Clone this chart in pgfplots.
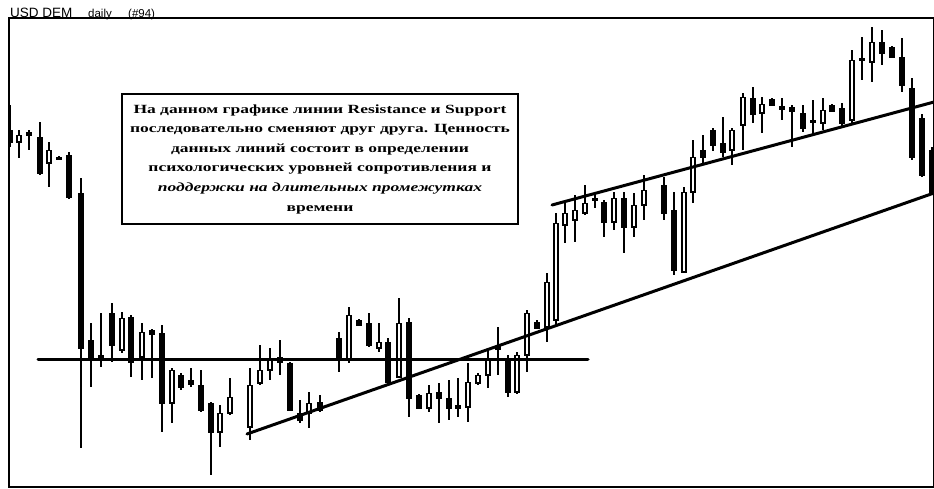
\documentclass[border=0pt]{standalone}
\usepackage{pgfplots}
\pgfplotsset{compat=1.18}
\usepackage{pgfplotstable}
\usepackage{fontspec}
\setmainfont{Liberation Serif}
\newfontfamily\titlefont{Liberation Sans}
\newfontfamily\boxfont[FakeStretch=1.4]{Liberation Serif}

% candles in pixel units: x, body top, body bottom, high, low (y grows downward)
\pgfplotstableread{
x top bot hi lo
10 130 142 105 147
29 132 135 130 150
40 137 173 122 175
59 157 159 156 160
69 155 197 152 199
81 193 348 178 448
91 340 358 323 387
101 355 360 313 367
112 313 345 303 362
131 317 362 315 377
152 330 334 329 378
162 333 403 325 432
181 375 387 373 390
191 380 384 368 387
201 385 410 370 412
211 403 432 402 475
280 357 362 340 375
290 363 410 362 411
300 413 420 400 423
320 402 410 395 412
339 338 360 332 372
359 320 325 319 326
369 323 345 313 347
388 342 382 338 383
409 322 398 318 417
419 395 408 394 409
439 392 398 383 423
449 398 408 380 420
458 405 408 378 417
498 346 349 327 375
508 360 392 355 397
537 322 328 320 329
595 198 200 193 208
604 202 222 200 237
624 198 227 192 253
664 185 213 177 220
674 210 270 192 275
703 150 157 135 163
713 130 145 128 151
723 143 152 117 157
753 98 114 87 123
772 99 105 98 106
782 106 109 98 120
792 107 111 105 147
803 113 128 105 132
813 120 122 100 134
832 105 111 104 112
842 108 123 103 128
862 58 60 37 80
882 42 53 30 65
892 47 57 46 58
902 57 85 38 92
912 88 157 78 160
922 118 175 114 177
932 150 192 147 195
}\filled

\pgfplotstableread{
x top bot hi lo
19 135 142 130 158
49 150 163 142 187
122 318 350 312 353
142 332 357 323 380
172 370 403 368 423
220 413 432 405 447
230 397 413 378 415
250 385 427 368 440
260 370 383 345 385
270 360 370 348 380
309 403 413 392 428
349 315 360 307 363
379 342 348 323 352
399 323 377 298 378
429 393 408 385 412
468 382 407 363 422
478 375 383 373 385
488 360 375 348 388
517 355 392 352 394
527 313 355 310 372
547 282 327 273 342
556 223 320 213 325
565 213 225 203 243
575 210 220 195 242
585 203 213 185 215
614 198 222 192 230
634 205 227 193 237
644 190 205 175 220
684 192 272 187 273
693 157 192 140 203
732 130 150 128 165
743 97 125 93 150
762 104 113 97 133
823 110 123 98 130
852 60 120 50 123
872 42 62 27 82
}\hollow

\begin{document}
\begin{tikzpicture}
\useasboundingbox (0,0) rectangle (934pt,488pt);
\begin{axis}[
  at={(9pt,1pt)}, anchor=south west,
  scale only axis, width=925pt, height=469pt,
  xmin=9, xmax=934, ymin=18, ymax=487, y dir=reverse,
  xtick=\empty, ytick=\empty,
  axis line style={line width=1.5pt},
]
% wicks
\addplot[draw=none, mark=none, error bars/.cd, y dir=both, y explicit, error mark=none,
  error bar style={line width=1.3pt, black}]
  table[x=x, y expr={(\thisrow{hi}+\thisrow{lo})/2}, y error expr={(\thisrow{lo}-\thisrow{hi})/2}] {\filled};
\addplot[draw=none, mark=none, error bars/.cd, y dir=both, y explicit, error mark=none,
  error bar style={line width=1.3pt, black}]
  table[x=x, y expr={(\thisrow{hi}+\thisrow{lo})/2}, y error expr={(\thisrow{lo}-\thisrow{hi})/2}] {\hollow};
% filled bodies
\addplot[draw=none, mark=none, error bars/.cd, y dir=both, y explicit, error mark=none,
  error bar style={line width=5.5pt, black}]
  table[x=x, y expr={(\thisrow{top}+\thisrow{bot})/2}, y error expr={(\thisrow{bot}-\thisrow{top})/2+0.5}] {\filled};
% hollow bodies
\addplot[draw=none, mark=none, error bars/.cd, y dir=both, y explicit, error mark=none,
  error bar style={line width=5.5pt, black}]
  table[x=x, y expr={(\thisrow{top}+\thisrow{bot})/2}, y error expr={(\thisrow{bot}-\thisrow{top})/2+0.5}] {\hollow};
\addplot[draw=none, mark=none, error bars/.cd, y dir=both, y explicit, error mark=none,
  error bar style={line width=2.8pt, white}]
  table[x=x, y expr={(\thisrow{top}+\thisrow{bot})/2}, y error expr={max(0,(\thisrow{bot}-\thisrow{top})/2-1)}] {\hollow};
% support / resistance lines
\addplot[black, line width=3pt, line cap=round] coordinates {(38,359) (588,359)};
\addplot[black, line width=3pt, line cap=round] coordinates {(247,434) (934,193)};
\addplot[black, line width=3pt, line cap=round] coordinates {(552,205) (934,102)};
% text box
\node[draw, line width=2.5pt, fill=white, minimum width=396pt, minimum height=130pt,
  inner sep=0pt, align=center, font=\boxfont\bfseries\fontsize{12.5}{19.6}\selectfont]
  at (axis cs:320,159)
  {На данном графике линии Resistance и Support\\
   последовательно сменяют друг друга. Ценность\\
   данных линий состоит в определении\\
   психологических уровней сопротивления и\\
   {\itshape поддержки на длительных промежутках}\\
   времени};
\end{axis}
\node[anchor=base west, inner sep=0pt, font=\titlefont\fontsize{13.5}{14}\selectfont] at (10pt,470pt) {USD DEM};
\node[anchor=base west, inner sep=0pt, font=\titlefont\fontsize{11.5}{13}\selectfont] at (88pt,470pt) {daily};
\node[anchor=base west, inner sep=0pt, font=\titlefont\fontsize{11.5}{13}\selectfont] at (128pt,470pt) {(\#94)};
\end{tikzpicture}
\end{document}
